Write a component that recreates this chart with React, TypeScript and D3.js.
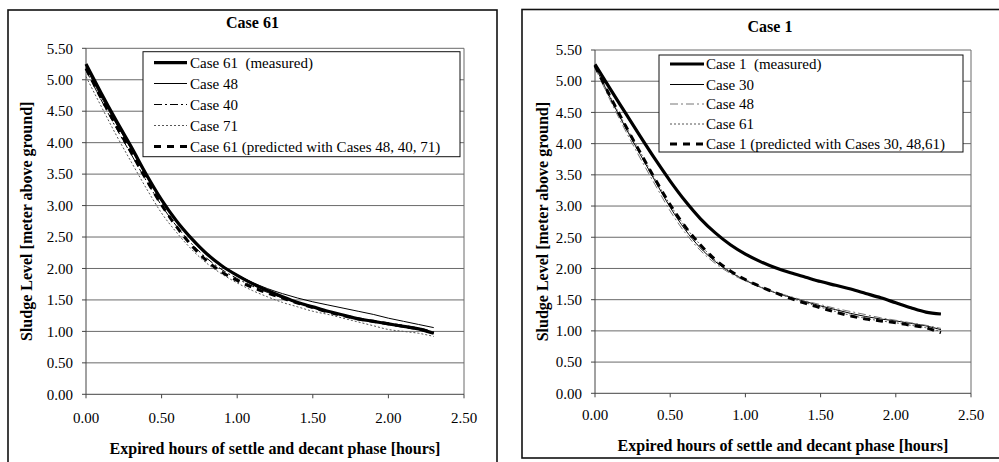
import React from "react";
import * as d3 from "d3";

// ---------- data ----------
const HOURS = [0, 0.1, 0.2, 0.3, 0.4, 0.5, 0.6, 0.7, 0.8, 0.9, 1.0, 1.1, 1.2, 1.3, 1.4, 1.5, 1.6, 1.7, 1.8, 1.9, 2.0, 2.1, 2.2, 2.3];

// Left chart: Case 61
const CASE61_MEASURED = [5.25, 4.79, 4.35, 3.93, 3.49, 3.09, 2.75, 2.47, 2.23, 2.04, 1.89, 1.76, 1.65, 1.55, 1.46, 1.39, 1.32, 1.26, 1.2, 1.16, 1.12, 1.08, 1.04, 0.97];
const CASE48 = [5.2, 4.73, 4.3, 3.89, 3.46, 3.08, 2.76, 2.48, 2.24, 2.05, 1.9, 1.78, 1.68, 1.6, 1.53, 1.47, 1.42, 1.37, 1.32, 1.27, 1.21, 1.16, 1.11, 1.06];
const CASE40 = [5.15, 4.68, 4.23, 3.81, 3.39, 3.0, 2.67, 2.39, 2.16, 1.98, 1.84, 1.72, 1.62, 1.53, 1.45, 1.38, 1.31, 1.25, 1.2, 1.15, 1.11, 1.07, 1.03, 0.98];
const CASE71 = [5.05, 4.58, 4.12, 3.69, 3.27, 2.88, 2.57, 2.3, 2.08, 1.91, 1.77, 1.65, 1.55, 1.46, 1.39, 1.32, 1.27, 1.21, 1.15, 1.09, 1.03, 1.0, 0.97, 0.92];
const CASE61_PREDICTED = [5.18, 4.71, 4.27, 3.84, 3.41, 3.01, 2.66, 2.36, 2.12, 1.94, 1.81, 1.7, 1.61, 1.53, 1.45, 1.38, 1.31, 1.25, 1.2, 1.16, 1.12, 1.08, 1.04, 0.98];

// Right chart: Case 1
const CASE1_MEASURED = [5.27, 4.88, 4.5, 4.12, 3.75, 3.4, 3.08, 2.8, 2.57, 2.38, 2.23, 2.11, 2.01, 1.93, 1.86, 1.79, 1.73, 1.67, 1.6, 1.53, 1.45, 1.37, 1.3, 1.27];
const CASE30 = [5.25, 4.74, 4.27, 3.83, 3.4, 2.98, 2.62, 2.33, 2.11, 1.94, 1.81, 1.7, 1.61, 1.54, 1.47, 1.4, 1.34, 1.28, 1.23, 1.19, 1.16, 1.12, 1.08, 1.02];
const CASE48_R = [5.22, 4.7, 4.22, 3.77, 3.34, 2.92, 2.57, 2.29, 2.08, 1.92, 1.8, 1.7, 1.62, 1.55, 1.48, 1.42, 1.36, 1.31, 1.26, 1.21, 1.17, 1.13, 1.09, 1.04];
const CASE61_R = [5.25, 4.76, 4.3, 3.87, 3.43, 3.02, 2.67, 2.38, 2.13, 1.95, 1.82, 1.71, 1.61, 1.53, 1.45, 1.38, 1.31, 1.25, 1.2, 1.16, 1.13, 1.09, 1.05, 0.99];
const CASE1_PREDICTED = [5.25, 4.76, 4.3, 3.86, 3.43, 3.02, 2.67, 2.38, 2.14, 1.96, 1.82, 1.71, 1.61, 1.52, 1.44, 1.37, 1.3, 1.24, 1.19, 1.16, 1.13, 1.09, 1.05, 0.97];

const X_TICKS = [0, 0.5, 1.0, 1.5, 2.0, 2.5];
const Y_TICKS = [0, 0.5, 1.0, 1.5, 2.0, 2.5, 3.0, 3.5, 4.0, 4.5, 5.0, 5.5];

const LEFT_TITLE = "Case 61";
const RIGHT_TITLE = "Case 1";
const LEFT_LEGEND = ["Case 61  (measured)", "Case 48", "Case 40", "Case 71", "Case 61 (predicted with Cases 48, 40, 71)"];
const RIGHT_LEGEND = ["Case 1  (measured)", "Case 30", "Case 48", "Case 61", "Case 1 (predicted with Cases 30, 48,61)"];
const Y_LABEL = "Sludge Level [meter above ground]";
const X_LABEL = "Expired hours of settle and decant phase [hours]";

const FONT = "Liberation Serif, Times New Roman, Times, DejaVu Serif, serif";

type Style = { stroke: string; width: number; dash?: string };

const MEASURED: Style = { stroke: "#000", width: 3.2 };
const THIN: Style = { stroke: "#000", width: 1 };
const DASHDOT: Style = { stroke: "#000", width: 1, dash: "8,3,2,3" };
const DASHDOT_GRAY: Style = { stroke: "#777", width: 1, dash: "8,3,2,3" };
const DOTTED: Style = { stroke: "#555", width: 1, dash: "2,2" };
const PREDICTED: Style = { stroke: "#000", width: 3, dash: "7,6" };

type PanelProps = {
  frame: { x: number; y: number; w: number; h: number };
  plot: { left: number; right: number; top: number; bottom: number };
  title: string;
  titleY: number;
  yLabelX: number;
  xTickY: number;
  xTitleY: number;
  legend: { x: number; y: number; w: number; h: number; rows: number[]; sx0: number; sx1: number; tx: number };
  labels: string[];
  series: { values: number[]; style: Style }[];
};

const txt = (size: number, bold = false): React.CSSProperties => ({
  fontFamily: FONT,
  fontSize: size,
  fontWeight: bold ? "bold" : "normal",
  whiteSpace: "pre",
});

function Panel(p: PanelProps) {
  const x = d3.scaleLinear().domain([0, 2.5]).range([p.plot.left, p.plot.right]);
  const y = d3.scaleLinear().domain([0, 5.5]).range([p.plot.bottom, p.plot.top]);
  const line = d3
    .line<number>()
    .x((_, i) => x(HOURS[i]))
    .y((v) => y(v))
    .curve(d3.curveMonotoneX);
  const cx = (p.frame.x + p.frame.x + p.frame.w) / 2;
  const pcx = (p.plot.left + p.plot.right) / 2;
  const pcy = (p.plot.top + p.plot.bottom) / 2;
  return (
    <g>
      <rect x={p.frame.x} y={p.frame.y} width={p.frame.w} height={p.frame.h} fill="#fff" stroke="#111" strokeWidth={1.6} />
      <text x={cx} y={p.titleY} textAnchor="middle" style={txt(16, true)}>
        {p.title}
      </text>
      {Y_TICKS.filter((t) => t > 0).map((t) => (
        <line key={"g" + t} x1={p.plot.left} x2={p.plot.right} y1={y(t)} y2={y(t)} stroke="#6a6a6a" strokeWidth={1} />
      ))}
      <line x1={p.plot.right} x2={p.plot.right} y1={p.plot.top} y2={p.plot.bottom} stroke="#6a6a6a" strokeWidth={1} />
      <line x1={p.plot.left} x2={p.plot.left} y1={p.plot.top} y2={p.plot.bottom} stroke="#444" strokeWidth={1} />
      <line x1={p.plot.left} x2={p.plot.right} y1={p.plot.bottom} y2={p.plot.bottom} stroke="#444" strokeWidth={1} />
      {Y_TICKS.map((t) => (
        <g key={"y" + t}>
          <line x1={p.plot.left - 4} x2={p.plot.left} y1={y(t)} y2={y(t)} stroke="#444" />
          <text x={p.plot.left - 13} y={y(t)} dy="0.35em" textAnchor="end" style={txt(15)}>
            {t.toFixed(2)}
          </text>
        </g>
      ))}
      {X_TICKS.map((t) => (
        <g key={"x" + t}>
          <line x1={x(t)} x2={x(t)} y1={p.plot.bottom} y2={p.plot.bottom + 4} stroke="#444" />
          <text x={x(t)} y={p.xTickY} dy="0.35em" textAnchor="middle" style={txt(15)}>
            {t.toFixed(2)}
          </text>
        </g>
      ))}
      <text transform={`translate(${p.yLabelX},${pcy}) rotate(-90)`} textAnchor="middle" dy="0.35em" style={txt(16, true)}>
        {Y_LABEL}
      </text>
      <text x={pcx} y={p.xTitleY} dy="0.35em" textAnchor="middle" style={txt(16, true)}>
        {X_LABEL}
      </text>
      {p.series.map((s, i) => (
        <path
          key={"s" + i}
          d={line(s.values) || ""}
          fill="none"
          stroke={s.style.stroke}
          strokeWidth={s.style.width}
          strokeDasharray={s.style.dash}
          strokeLinejoin="round"
        />
      ))}
      <rect x={p.legend.x} y={p.legend.y} width={p.legend.w} height={p.legend.h} fill="#fff" stroke="#111" strokeWidth={1} />
      {p.labels.map((lab, i) => {
        const st = p.series[i].style;
        const ry = p.legend.rows[i];
        return (
          <g key={"l" + i}>
            <line x1={p.legend.sx0} x2={p.legend.sx1} y1={ry} y2={ry} stroke={st.stroke} strokeWidth={st.width} strokeDasharray={st.dash} />
            <text x={p.legend.tx} y={ry} dy="0.35em" style={txt(15)}>
              {lab}
            </text>
          </g>
        );
      })}
    </g>
  );
}

export default function App() {
  return (
    <svg width={999} height={462} style={{ position: "absolute", left: 0, top: 0, background: "#fff" }} xmlns="http://www.w3.org/2000/svg">
      <rect x={0} y={0} width={999} height={462} fill="#fff" />
      <Panel
        frame={{ x: 8, y: 10, w: 489, h: 460 }}
        plot={{ left: 86, right: 464, top: 48.3, bottom: 394.3 }}
        title={LEFT_TITLE}
        titleY={28}
        yLabelX={26}
        xTickY={418}
        xTitleY={448}
        legend={{ x: 143, y: 51.7, w: 317, h: 105, rows: [62.7, 83.5, 104.5, 125.5, 146.5], sx0: 154, sx1: 187, tx: 190 }}
        labels={LEFT_LEGEND}
        series={[
          { values: CASE61_MEASURED, style: MEASURED },
          { values: CASE48, style: THIN },
          { values: CASE40, style: DASHDOT },
          { values: CASE71, style: DOTTED },
          { values: CASE61_PREDICTED, style: PREDICTED },
        ]}
      />
      <Panel
        frame={{ x: 522, y: 9.5, w: 496, h: 448.5 }}
        plot={{ left: 595, right: 971, top: 50, bottom: 393.3 }}
        title={RIGHT_TITLE}
        titleY={32}
        yLabelX={542}
        xTickY={415}
        xTitleY={445}
        legend={{ x: 659, y: 55, w: 304, h: 97, rows: [64, 84.5, 104, 124, 144], sx0: 670, sx1: 704, tx: 706 }}
        labels={RIGHT_LEGEND}
        series={[
          { values: CASE1_MEASURED, style: MEASURED },
          { values: CASE30, style: THIN },
          { values: CASE48_R, style: DASHDOT_GRAY },
          { values: CASE61_R, style: DOTTED },
          { values: CASE1_PREDICTED, style: PREDICTED },
        ]}
      />
    </svg>
  );
}
